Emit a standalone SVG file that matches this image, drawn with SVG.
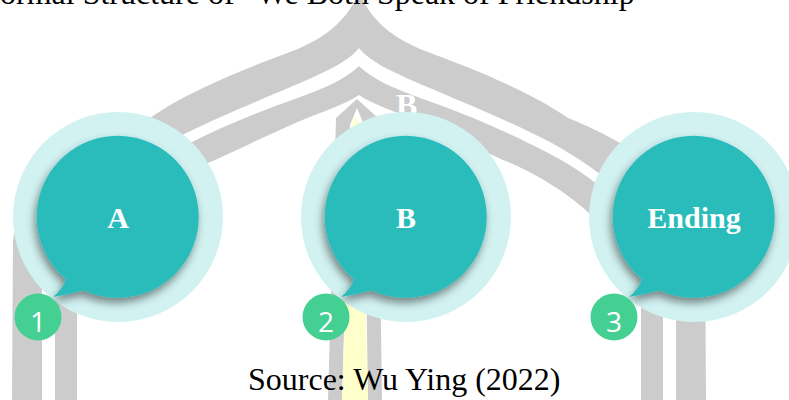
<svg xmlns="http://www.w3.org/2000/svg" xmlns:xlink="http://www.w3.org/1999/xlink" width="789" height="400" viewBox="0 0 789 400">
  <style>
    .band { fill: #cccccc; }
    .ring { fill: #d1f2f1; }
    .bubble { fill: #2cbcba; }
    .badge { fill: #44cf93; }
    .label { font-family: "Liberation Serif", "Times New Roman", serif; font-weight: bold; font-size: 30px; fill: #ffffff; text-anchor: middle; }
    .num { font-family: "Open Sans", "Noto Sans", sans-serif; font-size: 28px; fill: #ffffff; text-anchor: middle; }
    .serif { font-family: "Liberation Serif", "Times New Roman", serif; font-size: 32px; fill: #000000; }
  </style>
  <defs>
    <filter id="shadow" x="-30%" y="-30%" width="160%" height="160%">
      <feDropShadow dx="-2" dy="5" stdDeviation="4" flood-color="#000000" flood-opacity="0.45"/>
    </filter>
    <!-- speech bubble centred on the origin, tail to the lower left -->
    <path id="bubble-shape" d="M-52.1,62.1 A81,81 0 1 1 -34.2,73.4 Q-48,77 -65,80 Q-55,72 -52.1,62.1 Z"/>
    <!-- left half of the background arch: outer band and inner band with their legs -->
    <g id="arch-half">
      <path class="band" d="M359,-8 C347,22 322,40 290,52 C250,67 190,90 150,118 C95,140 25,180 13,240 L12,400 L42,400 L42,280 C45,230 110,170 180,136 C220,116 270,96 300,83 C325,72 348,62 359,48 Z"/>
      <path class="band" d="M359,66 C345,80 320,90 295,99 C255,113 220,128 190,143 C120,175 60,225 55,290 L55,400 L77,400 L77,300 C80,245 150,185 215,160 C245,146 275,132 300,121 C325,111 348,103 359,95 Z"/>
    </g>
  </defs>

  <!-- background arch -->
  <g id="arch">
    <use xlink:href="#arch-half"/>
    <use xlink:href="#arch-half" transform="translate(718,0) scale(-1,1)"/>
    <path class="band" d="M328,400 L336,118 L357,99 L378,118 L382,400 Z"/>
    <path fill="#ffffff" d="M342,400 L350,125 L357,108 L364,125 L368,400 Z"/>
    <path fill="#ffffcc" d="M342,400 L351,132 Q353,119 356,117 Q359,120 361,132 L368,400 Z"/>
    <text x="396" y="116" class="serif" style="font-weight:bold;font-size:32px;fill:#ffffff">B</text>
  </g>

  <!-- title -->
  <text x="0" y="4" class="serif">ormal Structure of “We Both Speak of Friendship</text>

  <g id="connectors"/>

  <g id="node-a" transform="translate(118,217)">
    <circle class="ring" r="105"/>
    <use xlink:href="#bubble-shape" class="bubble" filter="url(#shadow)"/>
    <text class="label" y="11">A</text>
    <circle class="badge" cx="-80" cy="100" r="23.5"/>
    <text class="num" x="-80" y="115">1</text>
  </g>

  <g id="node-b" transform="translate(406,217)">
    <circle class="ring" r="105"/>
    <use xlink:href="#bubble-shape" class="bubble" filter="url(#shadow)"/>
    <text class="label" y="11">B</text>
    <circle class="badge" cx="-80" cy="100" r="23.5"/>
    <text class="num" x="-80" y="115">2</text>
  </g>

  <g id="node-ending" transform="translate(694,217)">
    <circle class="ring" r="105"/>
    <use xlink:href="#bubble-shape" class="bubble" filter="url(#shadow)"/>
    <text class="label" y="11">Ending</text>
    <circle class="badge" cx="-80" cy="100" r="23.5"/>
    <text class="num" x="-80" y="115">3</text>
  </g>

  <!-- caption -->
  <text x="248" y="390" class="serif">Source: Wu Ying (2022)</text>
</svg>
